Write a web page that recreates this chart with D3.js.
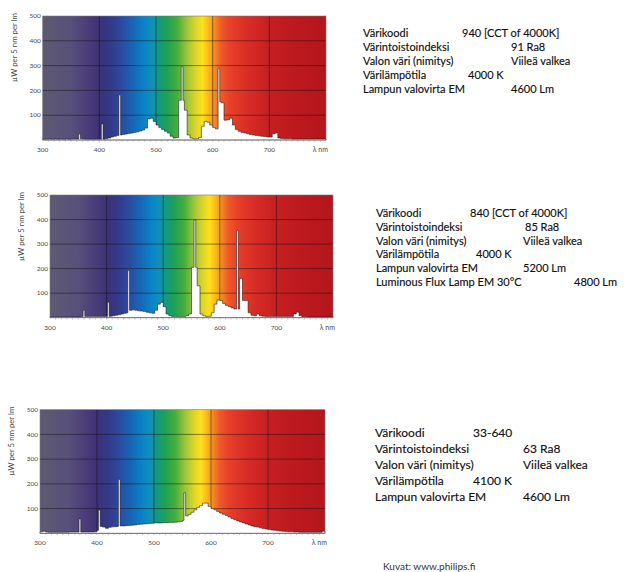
<!DOCTYPE html>
<html><head><meta charset="utf-8">
<script src="https://cdn.jsdelivr.net/npm/d3@7"></script>
<style>body{margin:0;background:#fff}svg{display:block}</style>
</head><body>
<svg id="c" width="625" height="572"></svg>
<script>
// ---------- DATA ----------
const wavelengths = d3.range(300, 801, 5); // 5 nm bins
const xTicks = [300, 400, 500, 600, 700];
const yTicks = [100, 200, 300, 400, 500];
const yTitle = "\u00b5W per 5 nm per lm";
const xTitle = "\u03bb nm";

// lamp 940
const bins940 = [3,3,4,3,4,3,4,3,4,3,4,4,4,5,4,3,3,3,3,3,3,3,5,8,12,15,18,20,22,24,26,28,30,33,36,40,48,85,88,75,60,50,42,35,28,15,8,10,160,160,120,20,8,5,5,10,55,75,72,60,50,45,155,150,80,82,88,60,42,35,30,28,25,22,20,18,17,15,14,12,12,25,28,8,6,5,5,5,4,4,4,4,4,4,4,4,4,4,4,4,4];
const lines940 = [[365,24],[405,65],[436,181],[546,296],[611,289]];
// lamp 840
const bins840 = [3,3,3,3,3,3,3,3,3,3,3,4,5,5,5,5,5,5,5,5,5,6,8,10,12,15,18,20,30,32,30,28,27,25,22,20,18,30,55,62,45,15,8,5,5,5,5,5,8,15,205,205,130,15,8,5,6,20,55,72,70,58,50,45,40,35,35,160,70,70,20,10,8,15,8,6,5,5,5,5,5,5,5,5,5,5,15,22,8,4,4,3,3,3,3,3,3,3,3,3,3];
const lines840 = [[360,30],[403,63],[439,192],[556,398],[631,355]];
// lamp 33-640
const bins640 = [6,8,5,4,4,4,4,4,4,4,5,5,5,5,5,5,5,5,5,6,12,28,25,20,24,26,27,28,30,30,31,32,33,34,36,37,38,39,40,41,42,42,42,43,43,44,44,45,46,48,52,70,76,85,95,105,112,122,122,108,100,95,88,82,77,72,66,60,55,50,46,42,38,34,30,27,25,22,19,17,15,13,12,10,9,8,7,6,6,5,5,4,4,4,4,4,4,4,4,8,4];
const lines640 = [[370,58],[404,94],[439,218],[554,164]];

// spectrum background colour stops [nm, colour]
const specStops = [[300,"#5f5a72"],[350,"#57507a"],[385,"#483a79"],[400,"#3c3274"],[420,"#33398a"],[440,"#2b4c9f"],[460,"#1766b6"],[478,"#0a82c8"],[492,"#0f8fbb"],[505,"#129a80"],[520,"#1fa153"],[538,"#49ae3d"],[555,"#9fc53a"],[570,"#dcd52b"],[582,"#ffe01a"],[592,"#fbbb1b"],[602,"#f59023"],[615,"#ef5a2a"],[630,"#e8412a"],[660,"#d92d26"],[700,"#c61f22"],[750,"#bb191e"],[800,"#b3161c"]];

// text blocks
const labels1 = ["V\u00e4rikoodi","V\u00e4rintoistoindeksi","Valon v\u00e4ri (nimitys)","V\u00e4ril\u00e4mp\u00f6tila","Lampun valovirta EM"];
const values1 = ["940 [CCT of 4000K]","91 Ra8","Viile\u00e4 valkea","4000 K","4600 Lm"];
const labels2 = ["V\u00e4rikoodi","V\u00e4rintoistoindeksi","Valon v\u00e4ri (nimitys)","V\u00e4ril\u00e4mp\u00f6tila","Lampun valovirta EM","Luminous Flux Lamp EM 30\u00b0C"];
const values2 = ["840 [CCT of 4000K]","85 Ra8","Viile\u00e4 valkea","4000 K","5200 Lm","4800 Lm"];
const labels3 = ["V\u00e4rikoodi","V\u00e4rintoistoindeksi","Valon v\u00e4ri (nimitys)","V\u00e4ril\u00e4mp\u00f6tila","Lampun valovirta EM"];
const values3 = ["33-640","63 Ra8","Viile\u00e4 valkea","4100 K","4600 Lm"];
const credit = "Kuvat: www.philips.fi";

// ---------- DRAW ----------
const svg = d3.select("#c");
const defs = svg.append("defs");
const grad = defs.append("linearGradient").attr("id","spec").attr("x1",0).attr("x2",1).attr("y1",0).attr("y2",0);
specStops.forEach(([nm,c]) => grad.append("stop").attr("offset", (nm-300)/500).attr("stop-color", c));

const font = "Lato, 'Open Sans', 'DejaVu Sans', sans-serif";

function chart(cfg, bins, lines) {
  const x = d3.scaleLinear().domain([300, 800]).range([cfg.l, cfg.r]);
  const y = d3.scaleLinear().domain([0, 500]).range([cfg.b, cfg.t]);
  const g = svg.append("g");
  g.append("rect").attr("x", cfg.l).attr("y", cfg.t).attr("width", cfg.r-cfg.l).attr("height", cfg.b-cfg.t)
    .attr("fill","url(#spec)");
  // grid
  g.selectAll(".gy").data(yTicks.slice(0,-1)).join("line")
    .attr("x1", cfg.l).attr("x2", cfg.r).attr("y1", d=>y(d)).attr("y2", d=>y(d))
    .attr("stroke","#111").attr("stroke-opacity",0.6).attr("stroke-width",0.8);
  g.selectAll(".gx").data(xTicks.slice(1)).join("line")
    .attr("y1", cfg.t).attr("y2", cfg.b).attr("x1", d=>x(d)).attr("x2", d=>x(d))
    .attr("stroke","#111").attr("stroke-opacity",0.6).attr("stroke-width",0.8);
  // spectrum: bins + narrow emission lines
  const fine = d3.range(300, 800.01, 0.5);
  const binVal = nm => bins[Math.min(bins.length-1, Math.floor((nm-300)/5 + 1e-6))];
  const pts = fine.map(nm => {
    let v = binVal(nm);
    lines.forEach(([c,h]) => { if (nm >= c-1.5 && nm < c+1.5) v = Math.max(v, h); });
    return [nm, v];
  });
  const area = d3.area().x(d=>x(d[0])).y0(y(0)).y1(d=>y(d[1])).curve(d3.curveStepAfter);
  g.append("path").datum(pts).attr("d", area).attr("fill","#fff")
    .attr("stroke","#222").attr("stroke-width",0.6).attr("stroke-linejoin","miter");
  // border
  g.append("rect").attr("x", cfg.l).attr("y", cfg.t).attr("width", cfg.r-cfg.l).attr("height", cfg.b-cfg.t)
    .attr("fill","none").attr("stroke","#777").attr("stroke-width",0.6);
  // minor ticks
  g.selectAll(".mt").data(d3.range(310, 800, 10)).join("line")
    .attr("x1", d=>x(d)).attr("x2", d=>x(d)).attr("y1", cfg.b).attr("y2", cfg.b+1.8)
    .attr("stroke","#888").attr("stroke-width",0.5);
  // axes labels
  g.selectAll(".yl").data(yTicks).join("text")
    .attr("x", cfg.l-2).attr("y", d=>y(d)+2.2).attr("text-anchor","end")
    .attr("font-family", font).attr("font-size", 6.5).attr("fill","#4a4a4a").text(d=>d);
  g.selectAll(".xl").data(xTicks).join("text")
    .attr("x", d=>x(d)).attr("y", cfg.b+12).attr("text-anchor","middle")
    .attr("font-family", font).attr("font-size", 6.5).attr("fill","#4a4a4a").text(d=>d);
  g.append("text").attr("x", cfg.r+2).attr("y", cfg.b+12).attr("text-anchor","end")
    .attr("font-family", font).attr("font-size", 7).attr("fill","#4a4a4a").text(xTitle);
  g.append("text").attr("transform", `translate(${cfg.l-26},${cfg.t-3}) rotate(-90)`)
    .attr("text-anchor","end").attr("font-family", font).attr("font-size", 7.8).attr("fill","#4a4a4a").text(yTitle);
}

chart({l:42.7, r:326, t:16, b:140}, bins940, lines940);
chart({l:50, r:333, t:195, b:317.7}, bins840, lines840);
chart({l:40, r:325, t:409.7, b:533.3}, bins640, lines640);

function block(labels, values, lx, vxs, y0, dy, fs) {
  labels.forEach((t,i) => {
    svg.append("text").attr("x", lx).attr("y", y0 + i*dy).attr("font-family", font).attr("font-size", fs).attr("fill","#111").attr("stroke","#111").attr("stroke-width",0.15).text(t);
    svg.append("text").attr("x", vxs[i]).attr("y", y0 + i*dy).attr("font-family", font).attr("font-size", fs).attr("fill","#111").attr("stroke","#111").attr("stroke-width",0.15).text(values[i]);
  });
}
block(labels1, values1, 363, [462,511,511,468,511], 37, 14, 11);
block(labels2, values2, 376, [470,525,523,476,523,574], 217, 13.8, 11);
block(labels3, values3, 375, [473,523,523,473,523], 436.5, 16, 12);
svg.append("text").attr("x", 383).attr("y", 570).attr("font-family", font).attr("font-size", 10).attr("fill","#333").text(credit);
</script>
</body></html>
